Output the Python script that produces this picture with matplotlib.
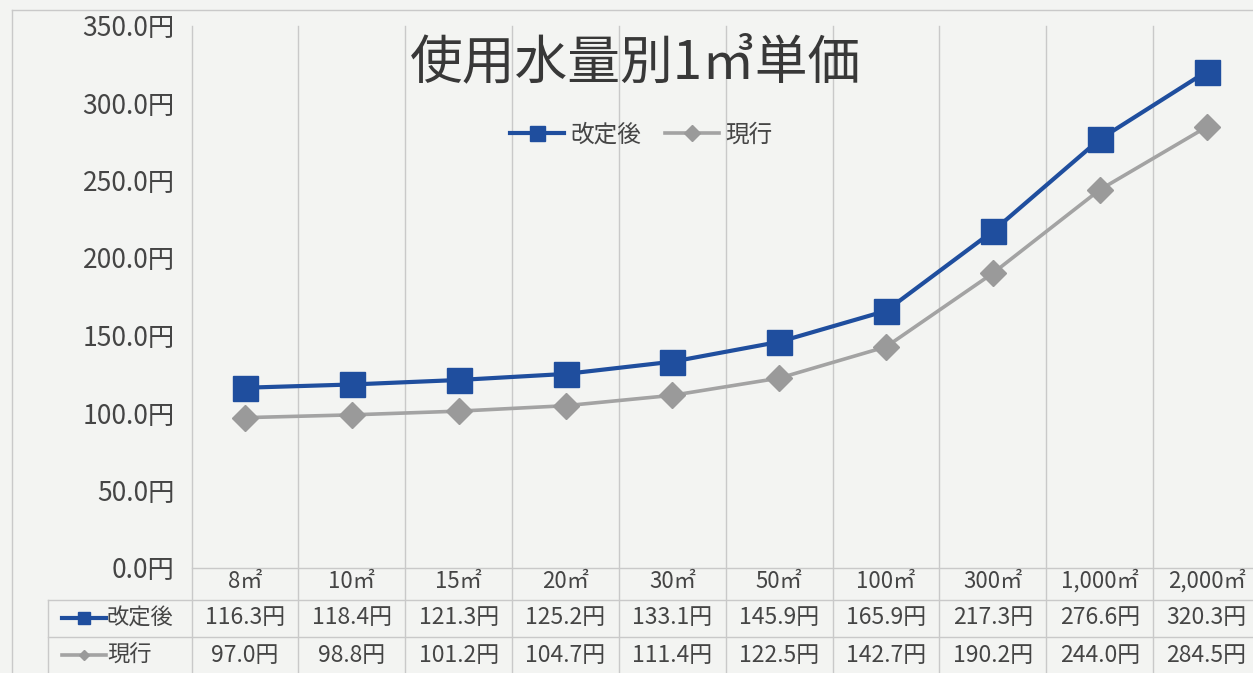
import matplotlib
matplotlib.use("Agg")
import matplotlib.pyplot as plt
import matplotlib.transforms as mtransforms
from matplotlib.lines import Line2D
import numpy as np

plt.rcParams['font.family'] = ['Noto Sans CJK JP', 'DejaVu Sans']

# ---- data ----
categories = ["8㎡", "10㎡", "15㎡", "20㎡", "30㎡", "50㎡", "100㎡", "300㎡", "1,000㎡", "2,000㎡"]
revised = [116.3, 118.4, 121.3, 125.2, 133.1, 145.9, 165.9, 217.3, 276.6, 320.3]
current = [97.0, 98.8, 101.2, 104.7, 111.4, 122.5, 142.7, 190.2, 244.0, 284.5]
series_names = ["改定後", "現行"]
yticks = [0, 50, 100, 150, 200, 250, 300, 350]
title = "使用水量別1㎥単価"

BLUE = '#1f4e9e'
GRAY = '#a3a3a3'
GRAYM = '#9a9a9a'
TXT = '#454545'
GRID = '#c9c9c9'
BG = '#f3f4f2'

W, H = 1253, 673
fig = plt.figure(figsize=(W / 100, H / 100), dpi=100, facecolor=BG)

def fx(px):
    return px / W

def fy(py):
    return 1 - py / H

ax_left, ax_right, ax_top, ax_bot = 191.6, 1260.0, 25.5, 568.0
ax = fig.add_axes([fx(ax_left), fy(ax_bot), fx(ax_right - ax_left), (ax_bot - ax_top) / H])
ax.set_facecolor('none')

x = np.arange(len(categories))
ax.plot(x, revised, color=BLUE, lw=3.0, marker='s', ms=18, mfc=BLUE, mec=BLUE,
        label=series_names[0], zorder=4)
ax.plot(x, current, color=GRAY, lw=2.6, marker='D', ms=13, mfc=GRAYM, mec=GRAYM,
        label=series_names[1], zorder=3)

ax.set_xlim(-0.5, len(categories) - 0.5)
ax.set_ylim(0, 350)
ax.set_yticks(yticks)
ax.set_yticklabels([f"{v:.1f}円" for v in yticks], fontsize=19, color=TXT)
ax.tick_params(axis='y', length=0, pad=12)
ax.set_xticks([])
for s in ax.spines.values():
    s.set_visible(False)

def ay(py):
    return (ax_bot - py) / (ax_bot - ax_top)

blend = mtransforms.blended_transform_factory(ax.transData, ax.transAxes)
for b in np.arange(-0.5, len(categories), 1.0):
    ax.plot([b, b], [ay(H + 2), 1.0], transform=blend, color=GRID, lw=1.0,
            clip_on=False, zorder=1)
ax.plot([-0.5, len(categories) - 0.5], [0, 0], transform=blend, color=GRID, lw=1.0,
        clip_on=False, zorder=1)
for py in (600, 637):
    fig.add_artist(Line2D([fx(48), 1.0], [fy(py), fy(py)], color=GRID, lw=1.0))
fig.add_artist(Line2D([fx(48), fx(48)], [fy(600), 0], color=GRID, lw=1.0))
# outer frame
fig.add_artist(Line2D([fx(12), fx(12)], [fy(10), 0], color=GRID, lw=1.0))
fig.add_artist(Line2D([fx(12), 1.0], [fy(10), fy(10)], color=GRID, lw=1.0))

# table text
for i, c in enumerate(categories):
    ax.text(i, ay(581), c, transform=blend, ha='center', va='center', fontsize=16, color=TXT)
    ax.text(i, ay(618), f"{revised[i]:.1f}円", transform=blend, ha='center', va='center',
            fontsize=16.5, color=TXT)
    ax.text(i, ay(655), f"{current[i]:.1f}円", transform=blend, ha='center', va='center',
            fontsize=16.5, color=TXT)

# row labels with icons
fig.add_artist(Line2D([fx(62), fx(106)], [fy(618), fy(618)], color=BLUE, lw=3.0))
fig.add_artist(Line2D([fx(84)], [fy(618)], marker='s', ms=9, color=BLUE))
fig.text(fx(107), fy(618), series_names[0], ha='left', va='center', fontsize=16, color=TXT)
fig.add_artist(Line2D([fx(62), fx(106)], [fy(655), fy(655)], color=GRAY, lw=2.6))
fig.add_artist(Line2D([fx(84)], [fy(655)], marker='D', ms=5, color=GRAYM))
fig.text(fx(107), fy(655), series_names[1], ha='left', va='center', fontsize=16, color=TXT)

# title
fig.text(fx(636), fy(63), title, ha='center', va='center', fontsize=38,
         color='#383838')

# legend
leg = ax.legend(loc='center', bbox_to_anchor=(fx(641), fy(135)),
                bbox_transform=fig.transFigure, ncol=2, frameon=False,
                fontsize=17, handlelength=2.3, markerscale=0.6, columnspacing=1.0,
                handletextpad=0.25, labelcolor=TXT)

fig.savefig("out.png", dpi=100, facecolor=BG)
